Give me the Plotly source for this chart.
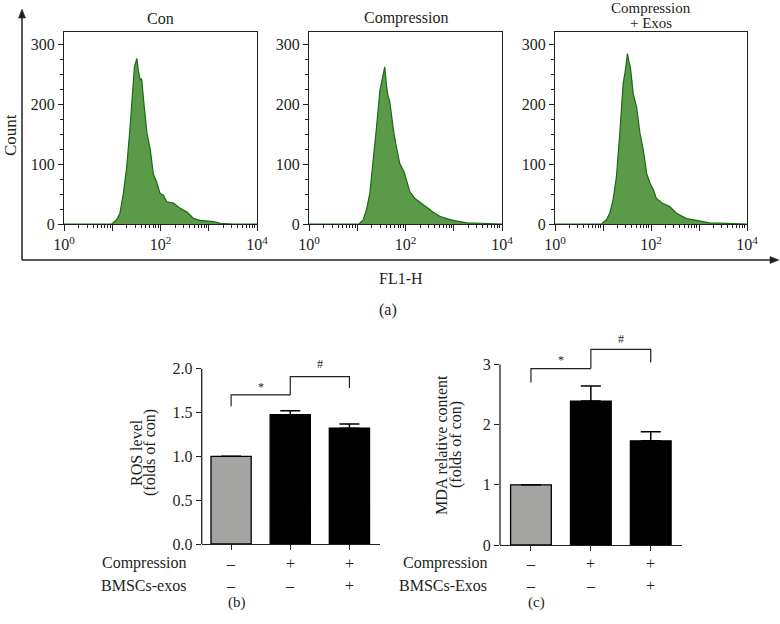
import numpy as np
import plotly.graph_objects as go

# ---------------- data ----------------
# flow cytometry histograms, FL1-H position in decades (log10) and counts
con_log = [0.0, 0.99, 1.09, 1.16, 1.23, 1.30, 1.37, 1.43, 1.46, 1.51,
           1.54, 1.58, 1.61, 1.65, 1.72, 1.79, 1.85, 1.92, 1.99, 2.06,
           2.13, 2.27, 2.41, 2.55, 2.69, 2.82, 3.10, 3.24, 3.52, 4.0]
con_count = [0, 0, 7, 18, 51, 95, 162, 234, 262, 276,
             256, 240, 242, 206, 151, 123, 84, 70, 51, 48,
             37, 35, 26, 20, 9, 6, 4, 1, 0, 0]

comp_log = [0.0, 1.04, 1.12, 1.19, 1.26, 1.33, 1.40, 1.47, 1.54, 1.57,
            1.61, 1.64, 1.67, 1.72, 1.76, 1.81, 1.88, 1.97, 2.02, 2.09,
            2.19, 2.30, 2.44, 2.57, 2.71, 2.85, 2.99, 3.27, 3.61, 3.82, 4.0]
comp_count = [0, 0, 7, 23, 51, 101, 162, 223, 248, 262,
              228, 212, 206, 173, 151, 129, 101, 87, 73, 54,
              43, 37, 28, 20, 13, 9, 6, 2, 1, 0, 0]

exo_log = [0.0, 0.97, 1.07, 1.14, 1.21, 1.28, 1.35, 1.42, 1.46, 1.49,
           1.51, 1.55, 1.57, 1.63, 1.70, 1.77, 1.84, 1.91, 1.98, 2.05,
           2.11, 2.25, 2.39, 2.53, 2.74, 2.95, 3.22, 3.57, 3.95, 4.0]
exo_count = [0, 0, 7, 18, 40, 79, 151, 234, 253, 276,
             284, 267, 262, 217, 195, 151, 123, 84, 68, 57,
             43, 34, 29, 18, 9, 6, 2, 1, 0, 0]

# panel titles, one list entry per text line
hist_titles = [["Con"], ["Compression"], ["Compression", "+ Exos"]]

# bar charts
groups = [0, 1, 2]
ros_vals = [1.0, 1.475, 1.32]
ros_err = [0, 0.045, 0.05]
mda_vals = [1.0, 2.39, 1.73]
mda_err = [0, 0.25, 0.15]

compression_row = ["–", "+", "+"]
exos_row = ["–", "–", "+"]

# significance brackets: (x_left, x_right, y_top, y_left_end, y_right_end, label, label_y)
ros_brackets = [(0, 1, 1.70, 1.57, 1.70, "*", 1.79),
                (1, 2, 1.91, 1.70, 1.78, "#", 2.05)]
mda_brackets = [(0, 1, 2.93, 2.70, 2.93, "*", 3.08),
                (1, 2, 3.25, 2.93, 3.03, "#", 3.42)]

# ---------------- styling ----------------
W, H = 780, 624
FONT = "Liberation Serif"
ink = "#231f20"
green_fill = "#5a9a48"
green_line = "#1d6a16"
gray_bar = "#a4a4a2"


def px(x):
    return x / W


def py(y):
    return 1 - y / H


tick_font = dict(family=FONT, size=16, color=ink)

fig = go.Figure()

# ---------------- (a) histograms ----------------
hist_sets = [(con_log, con_count), (comp_log, comp_count), (exo_log, exo_count)]
hist_left = [64, 309, 555]
hist_right = [257, 502, 747]
minor_vals = [m * 10 ** d for d in range(4) for m in range(2, 10)]

for i, (lg, cnt) in enumerate(hist_sets):
    n = "" if i == 0 else str(i + 1)
    fig.add_trace(go.Scatter(
        x=10 ** np.array(lg), y=cnt, mode="lines",
        fill="tozeroy", fillcolor=green_fill,
        line=dict(color=green_line, width=1.2),
        xaxis="x" + n, yaxis="y" + n, showlegend=False, hoverinfo="skip"
    ))
    fig.update_layout(**{
        "xaxis" + n: dict(
            type="log", range=[0, 4], domain=[px(hist_left[i]), px(hist_right[i])],
            anchor="y" + n, showline=True, linecolor=ink, linewidth=1.3, mirror=True,
            ticks="outside", ticklen=6, tickwidth=1.2, tickcolor=ink,
            tickmode="array", tickvals=[1, 10, 100, 1000, 10000],
            ticktext=["10<sup>0</sup>", "", "10<sup>2</sup>", "", "10<sup>4</sup>"],
            minor=dict(tickmode="array", tickvals=minor_vals, ticks="outside",
                       ticklen=3, tickwidth=1, tickcolor=ink),
            showgrid=False, zeroline=False, tickfont=tick_font, automargin=False
        ),
        "yaxis" + n: dict(
            range=[0, 320], domain=[py(224), py(32)], anchor="x" + n,
            showline=True, linecolor=ink, linewidth=1.3, mirror=True,
            ticks="outside", ticklen=5, tickwidth=1.2, tickcolor=ink,
            tickvals=[0, 100, 200, 300],
            minor=dict(tick0=0, dtick=25, ticks="outside", ticklen=3,
                       tickwidth=1, tickcolor=ink),
            showgrid=False, zeroline=False, tickfont=tick_font, automargin=False
        )
    })
    lines = hist_titles[i]
    y_lines = [18] if len(lines) == 1 else [8, 23]
    for txt, yl in zip(lines, y_lines):
        fig.add_annotation(text=txt, xref="paper", yref="paper",
                           x=px((hist_left[i] + hist_right[i]) / 2), y=py(yl),
                           xanchor="center", yanchor="middle", showarrow=False,
                           font=dict(family=FONT, size=16 if len(lines) == 1 else 15,
                                     color=ink))

# outer L axis with arrows
shapes = [
    dict(type="line", xref="paper", yref="paper", x0=px(22), x1=px(22),
         y0=py(16), y1=py(260), line=dict(color=ink, width=1.5)),
    dict(type="line", xref="paper", yref="paper", x0=px(22), x1=px(772),
         y0=py(260), y1=py(260), line=dict(color=ink, width=1.5)),
    dict(type="path", xref="paper", yref="paper",
         path=f"M {px(18.5)},{py(18)} L {px(22)},{py(9)} L {px(25.5)},{py(18)} Z",
         fillcolor=ink, line=dict(color=ink, width=0.5)),
    dict(type="path", xref="paper", yref="paper",
         path=f"M {px(770)},{py(256.5)} L {px(779)},{py(260)} L {px(770)},{py(263.5)} Z",
         fillcolor=ink, line=dict(color=ink, width=0.5)),
]

fig.add_annotation(text="Count", xref="paper", yref="paper", x=px(10), y=py(135),
                   xanchor="center", yanchor="middle", textangle=-90, showarrow=False,
                   font=dict(family=FONT, size=17, color=ink))
fig.add_annotation(text="FL1-H", xref="paper", yref="paper", x=px(401), y=py(278),
                   xanchor="center", yanchor="middle", showarrow=False, font=tick_font)
fig.add_annotation(text="(a)", xref="paper", yref="paper", x=px(388), y=py(310),
                   xanchor="center", yanchor="middle", showarrow=False, font=tick_font)

# ---------------- (b) ROS and (c) MDA bars ----------------
# y ranges run a little past the top tick so the brackets/labels above stay visible;
# the visible axis line is drawn as a shape up to the top tick only
bar_colors = [gray_bar, "#000000", "#000000"]
bar_panels = [
    dict(n="4", vals=ros_vals, err=ros_err, xdom=(201.7, 380), xr=[-0.497, 2.517],
         ydom=(544, 351.1), yr=[0, 2.2], yticks=[0, 0.5, 1.0, 1.5, 2.0], ytop=2.0,
         brackets=ros_brackets, row_x=188, exos_name="BMSCs-exos",
         titles=[("ROS level", 136), ("(folds of con)", 150)], title_y=453,
         letter=("(b)", 237)),
    dict(n="5", vals=mda_vals, err=mda_err, xdom=(500, 681.7), xr=[-0.517, 2.517],
         ydom=(545, 334.3), yr=[0, 3.5], yticks=[0, 1, 2, 3], ytop=3,
         brackets=mda_brackets, row_x=489, exos_name="BMSCs-Exos",
         titles=[("MDA relative content", 441), ("(folds of con)", 456)], title_y=445,
         letter=("(c)", 536)),
]

for p in bar_panels:
    n = p["n"]
    fig.add_trace(go.Bar(
        x=groups, y=p["vals"], width=0.68,
        marker=dict(color=bar_colors, line=dict(color="#000000", width=1.3)),
        error_y=dict(type="data", array=p["err"], arrayminus=[0, 0, 0], symmetric=False,
                     color="#000000", thickness=1.5, width=10),
        xaxis="x" + n, yaxis="y" + n, showlegend=False, hoverinfo="skip"
    ))
    fig.update_layout(**{
        "xaxis" + n: dict(
            range=p["xr"], domain=[px(p["xdom"][0]), px(p["xdom"][1])], anchor="y" + n,
            showline=True, linecolor=ink, linewidth=1.3,
            ticks="outside", ticklen=5, tickwidth=1.2, tickcolor=ink,
            tickvals=groups, showticklabels=False, showgrid=False, zeroline=False,
            automargin=False
        ),
        "yaxis" + n: dict(
            range=p["yr"], domain=[py(p["ydom"][0]), py(p["ydom"][1])], anchor="x" + n,
            showline=False, ticks="outside", ticklen=5, tickwidth=1.2, tickcolor=ink,
            tickvals=p["yticks"], tickformat=".1f" if n == "4" else "d",
            showgrid=False, zeroline=False, tickfont=tick_font, automargin=False
        )
    })
    # y axis line only up to the top tick
    shapes.append(dict(type="line", xref="x" + n + " domain", yref="y" + n,
                       x0=0, x1=0, y0=0, y1=p["ytop"], line=dict(color=ink, width=1.3)))
    # significance brackets
    for x0, x1, yt, yl, yr_, lab, ly in p["brackets"]:
        shapes.append(dict(type="path", xref="x" + n, yref="y" + n,
                           path=f"M {x0},{yl} L {x0},{yt} L {x1},{yt} L {x1},{yr_}",
                           line=dict(color=ink, width=1.2)))
        fig.add_annotation(text=lab, xref="x" + n, yref="y" + n, x=(x0 + x1) / 2, y=ly,
                           showarrow=False, font=dict(family=FONT, size=12, color=ink))
    # treatment rows
    for g, c, e in zip(groups, compression_row, exos_row):
        fig.add_annotation(text=c, xref="x" + n, yref="paper", x=g, y=py(563),
                           yanchor="middle", showarrow=False, font=tick_font)
        fig.add_annotation(text=e, xref="x" + n, yref="paper", x=g, y=py(585),
                           yanchor="middle", showarrow=False, font=tick_font)
    fig.add_annotation(text="Compression", xref="paper", yref="paper", x=px(p["row_x"]),
                       y=py(563), xanchor="right", yanchor="middle", showarrow=False,
                       font=tick_font)
    fig.add_annotation(text=p["exos_name"], xref="paper", yref="paper", x=px(p["row_x"]),
                       y=py(585), xanchor="right", yanchor="middle", showarrow=False,
                       font=tick_font)
    for txt, tx in p["titles"]:
        fig.add_annotation(text=txt, xref="paper", yref="paper", x=px(tx), y=py(p["title_y"]),
                           xanchor="center", yanchor="middle", textangle=-90,
                           showarrow=False, font=tick_font)
    fig.add_annotation(text=p["letter"][0], xref="paper", yref="paper",
                       x=px(p["letter"][1]), y=py(602), xanchor="center", yanchor="middle",
                       showarrow=False, font=dict(family=FONT, size=15, color=ink))

fig.update_layout(
    width=W, height=H,
    margin=dict(l=0, r=0, t=0, b=0, pad=0),
    paper_bgcolor="white", plot_bgcolor="white",
    shapes=shapes,
    bargap=0.3,
)

# the page body has a default 8px margin; drop it so the figure sits at the corner
fig.write_html("out.html", config={"displayModeBar": False},
               post_script="document.body.style.margin='0';")
